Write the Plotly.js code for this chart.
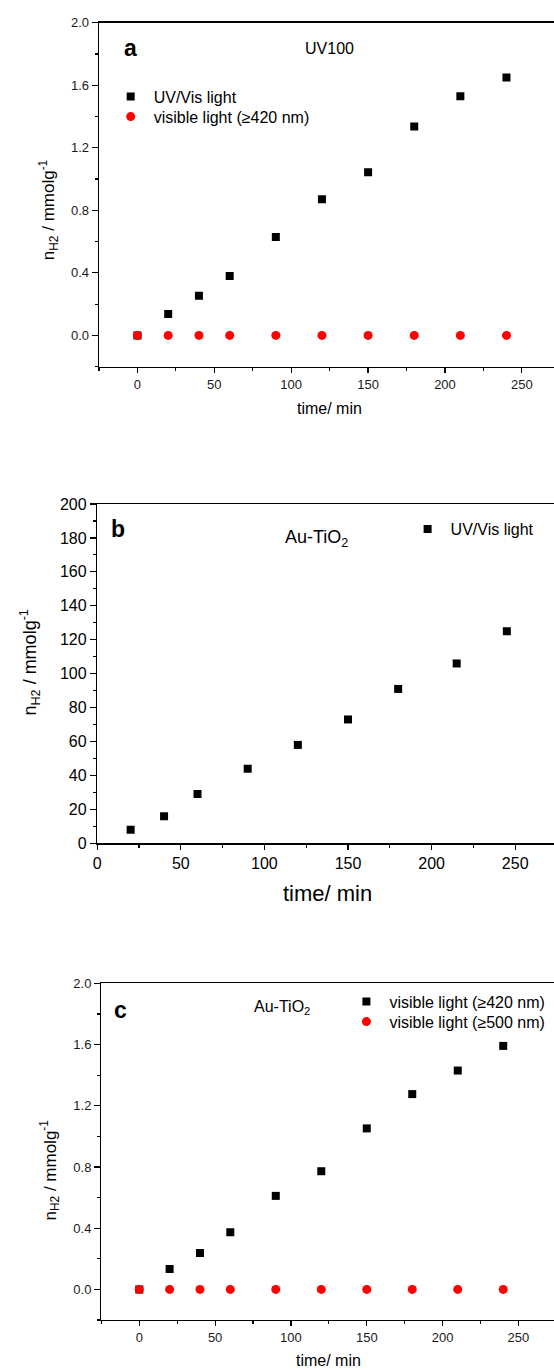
<!DOCTYPE html>
<html>
<head>
<meta charset="utf-8">
<script src="https://cdn.plot.ly/plotly-3.0.1.min.js"></script>
<style>
html,body{margin:0;padding:0;overflow:hidden;background:#fff;}
#chart{width:600px;height:1369px;}
</style>
</head>
<body>
<div id="chart"></div>
<script>
// ---- data ----
var timeA = [0, 20, 40, 60, 90, 120, 150, 180, 210, 240];
var uvVisA = [0, 0.137, 0.254, 0.380, 0.630, 0.871, 1.044, 1.336, 1.530, 1.650];
var visA = [0, 0, 0, 0, 0, 0, 0, 0, 0, 0];

var timeB = [20, 40, 60, 90, 120, 150, 180, 215, 245];
var uvVisB = [8, 16, 29, 44, 58, 73, 91, 106, 125];

var timeC = [0, 20, 40, 60, 90, 120, 150, 180, 210, 240];
var vis420C = [0, 0.133, 0.237, 0.374, 0.611, 0.772, 1.052, 1.276, 1.430, 1.591];
var vis500C = [0, 0, 0, 0, 0, 0, 0, 0, 0, 0];

var seriesNames = {
  uvVis: 'UV/Vis light',
  vis420: 'visible light (\u2265420 nm)',
  vis500: 'visible light (\u2265500 nm)'
};
var panelLabels = ['a', 'b', 'c'];
var sampleLabels = ['UV100', 'Au-TiO<sub>2</sub>', 'Au-TiO<sub>2</sub>'];
var yTitle = 'n<sub>H2</sub> / mmolg<sup>-1</sup>';
var xTitle = 'time/ min';

// ---- layout helpers ----
var W = 600, H = 1369;
function px(x) { return x / W; }
function py(y) { return (H - y) / H; }
var FONT = 'Liberation Sans, Arial, Helvetica, sans-serif';

function sq(color) { return {symbol: 'square', size: 8, color: color}; }
function ci(color) { return {symbol: 'circle', size: 9, color: color}; }

var traces = [
  {x: timeA, y: uvVisA, type: 'scatter', mode: 'markers', name: seriesNames.uvVis,
   marker: sq('#000'), xaxis: 'x', yaxis: 'y', legend: 'legend'},
  {x: timeA, y: visA, type: 'scatter', mode: 'markers', name: seriesNames.vis420,
   marker: ci('#ff0000'), xaxis: 'x', yaxis: 'y', legend: 'legend4'},
  {x: timeB, y: uvVisB, type: 'scatter', mode: 'markers', name: seriesNames.uvVis,
   marker: sq('#000'), xaxis: 'x2', yaxis: 'y2', legend: 'legend2'},
  {x: timeC, y: vis420C, type: 'scatter', mode: 'markers', name: seriesNames.vis420,
   marker: sq('#000'), xaxis: 'x3', yaxis: 'y3', legend: 'legend3'},
  {x: timeC, y: vis500C, type: 'scatter', mode: 'markers', name: seriesNames.vis500,
   marker: ci('#ff0000'), xaxis: 'x3', yaxis: 'y3', legend: 'legend5'}
];

function xAxis(dom, anchor, range, tickSize, color) {
  return {
    domain: dom, anchor: anchor, range: range,
    tick0: 0, dtick: 50, ticks: 'outside', ticklen: 5, tickwidth: 1.2, tickcolor: '#000',
    minor: {dtick: 25, tick0: 0, ticks: 'outside', ticklen: 3, tickwidth: 1.2, tickcolor: '#000'},
    showline: true, linecolor: '#000', linewidth: 1.4, mirror: true,
    showgrid: false, zeroline: false,
    tickfont: {family: FONT, size: tickSize, color: color}
  };
}
function yAxis(dom, anchor, range, dtick, mdtick, fmt, tickSize, color) {
  return {
    domain: dom, anchor: anchor, range: range,
    tick0: 0, dtick: dtick, ticks: 'outside', ticklen: 6, tickwidth: 1.2, tickcolor: '#000',
    minor: {dtick: mdtick, tick0: 0, ticks: 'outside', ticklen: 3, tickwidth: 1.2, tickcolor: '#000'},
    tickformat: fmt,
    showline: true, linecolor: '#000', linewidth: 1.4, mirror: true,
    showgrid: false, zeroline: false,
    tickfont: {family: FONT, size: tickSize, color: color}
  };
}
function topTicks(over, anchor, range) {
  return {
    overlaying: over, anchor: anchor, side: 'top', range: range,
    tick0: 0, dtick: 25, ticks: 'inside', ticklen: 3, tickwidth: 1, tickcolor: '#000',
    showticklabels: false, showline: false, showgrid: false, zeroline: false
  };
}

var xdA = [px(99), px(560.3)], ydA = [py(366.7), py(22.7)];
var xdB = [px(97.2), px(557)], ydB = [py(843.3), py(504)];
var xdC = [px(101.4), px(556.3)], ydC = [py(1320), py(983.3)];

// legend placed so that the marker centre sits at (mx, my)
function legendAt(mx, my, size) {
  return {x: px(mx - 23), y: py(my - 17), xanchor: 'left', yanchor: 'top', bgcolor: 'rgba(0,0,0,0)',
          borderwidth: 0, itemwidth: 36, font: {family: FONT, size: size, color: '#000'},
          itemclick: false, itemdoubleclick: false};
}

function ann(text, x, y, size, bold, angle) {
  return {text: bold ? '<b>' + text + '</b>' : text, x: px(x), y: py(y), xref: 'paper', yref: 'paper',
          xanchor: 'center', yanchor: 'middle', showarrow: false, textangle: angle || 0,
          font: {family: FONT, size: size, color: '#000'}};
}

var layout = {
  width: W, height: H,
  margin: {l: 0, r: 0, t: 0, b: 0},
  paper_bgcolor: '#fff', plot_bgcolor: '#fff',
  xaxis: xAxis(xdA, 'y', [-25, 275], 13, '#1a1a1a'),
  yaxis: yAxis(ydA, 'x', [-0.2, 2.0], 0.4, 0.2, '.1f', 13, '#1a1a1a'),
  xaxis2: xAxis(xdB, 'y2', [0, 275], 16, '#000'),
  yaxis2: yAxis(ydB, 'x2', [0, 200], 20, 10, 'd', 16, '#000'),
  xaxis3: xAxis(xdC, 'y3', [-25, 275], 13, '#1a1a1a'),
  yaxis3: yAxis(ydC, 'x3', [-0.2, 2.0], 0.4, 0.2, '.1f', 13, '#1a1a1a'),
  xaxis4: topTicks('x', 'y', [-25, 275]),
  xaxis5: topTicks('x2', 'y2', [0, 275]),
  xaxis6: topTicks('x3', 'y3', [-25, 275]),
  legend: legendAt(130.7, 96.7, 16),
  legend4: legendAt(130.7, 116.7, 16),
  legend2: legendAt(427.6, 529, 16),
  legend3: legendAt(366.4, 1001.7, 16),
  legend5: legendAt(366.4, 1021.7, 16),
  annotations: [
    ann(panelLabels[0], 130.7, 48, 23, true),
    ann(sampleLabels[0], 329.3, 49, 16, false),
    ann(yTitle, 48.5, 209.7, 17, false, -90),
    ann(xTitle, 329.3, 408.3, 16, false),

    ann(panelLabels[1], 118.4, 529, 23, true),
    ann(sampleLabels[1], 316.3, 538.5, 18, false),
    ann(yTitle, 30, 662.5, 18, false, -90),
    ann(xTitle, 327.6, 893.3, 22, false),

    ann(panelLabels[2], 120.1, 1010, 23, true),
    ann(sampleLabels[2], 282, 1007.5, 16, false),
    ann(yTitle, 49.5, 1170, 17, false, -90),
    ann(xTitle, 328.6, 1360, 16, false)
  ],
  showlegend: true
};

Plotly.newPlot('chart', traces, layout, {staticPlot: true, displayModeBar: false});
</script>
</body>
</html>
